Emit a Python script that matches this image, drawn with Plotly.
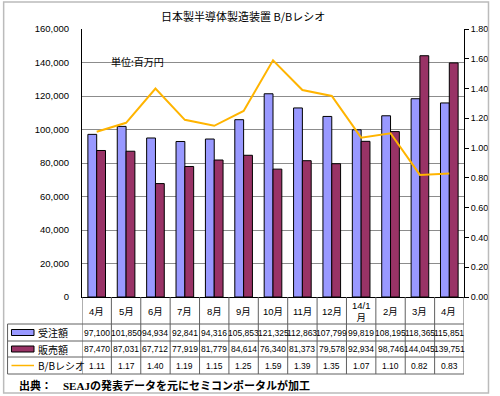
import plotly.graph_objects as go

months = ["4月", "5月", "6月", "7月", "8月", "9月", "10月", "11月", "12月", "14/1<br>月", "2月", "3月", "4月 "]
orders = [97100, 101850, 94934, 92841, 94316, 105853, 121325, 112863, 107799, 99819, 108195, 118365, 115851]
sales = [87470, 87031, 67712, 77919, 81779, 84614, 76340, 81373, 79578, 92934, 98746, 144045, 139751]
bb_ratio = [1.11, 1.17, 1.40, 1.19, 1.15, 1.25, 1.59, 1.39, 1.35, 1.07, 1.10, 0.82, 0.83]
left_ticks = [0, 20000, 40000, 60000, 80000, 100000, 120000, 140000, 160000]
right_ticks = [0.0, 0.2, 0.4, 0.6, 0.8, 1.0, 1.2, 1.4, 1.6, 1.8]

W, H = 500, 396
L, R, T, B = 82, 472, 29, 297
BLUE = "#9999FF"
MAROON = "#993366"
ORANGE = "#FFB400"
FONT = "Liberation Sans, Arial, Noto Sans CJK JP"
JFONT = "Noto Sans CJK JP"

def px(xp):
    return (xp - L) / (R - L)

def py(yp):
    return (B - yp) / (B - T)

fig = go.Figure()
fig.add_trace(go.Bar(x=months, y=orders, name="受注額", marker=dict(color=BLUE, line=dict(color="black", width=1))))
fig.add_trace(go.Bar(x=months, y=sales, name="販売額", marker=dict(color=MAROON, line=dict(color="black", width=1))))
fig.add_trace(go.Scatter(x=months, y=bb_ratio, name="B/Bレシオ", mode="lines", yaxis="y2",
                         line=dict(color=ORANGE, width=2)))

shapes = []
ann = []
line_col = "#606060"
# table horizontal lines
for yp in [324, 341, 357, 374]:
    shapes.append(dict(type="line", xref="paper", yref="paper", x0=px(6), x1=px(R), y0=py(yp), y1=py(yp),
                       line=dict(color=line_col, width=1)))
# table vertical lines
shapes.append(dict(type="line", xref="paper", yref="paper", x0=px(6), x1=px(6), y0=py(324), y1=py(374),
                   line=dict(color=line_col, width=1)))
for k in range(len(months) + 1):
    xv = k - 0.5
    shapes.append(dict(type="line", xref="x", yref="paper", x0=xv, x1=xv, y0=py(B), y1=py(374),
                       line=dict(color=line_col, width=1)))
# outer border
shapes.append(dict(type="rect", xref="paper", yref="paper", x0=px(2), x1=px(497), y0=py(2), y1=py(393),
                   line=dict(color="#BBBBBB", width=1.5)))
# legend symbols
shapes.append(dict(type="rect", xref="paper", yref="paper", x0=px(10), x1=px(33), y0=py(329.5), y1=py(335.5),
                   fillcolor=BLUE, line=dict(color="black", width=1)))
shapes.append(dict(type="rect", xref="paper", yref="paper", x0=px(10), x1=px(33), y0=py(346), y1=py(352),
                   fillcolor=MAROON, line=dict(color="black", width=1)))
shapes.append(dict(type="line", xref="paper", yref="paper", x0=px(10), x1=px(33), y0=py(365.5), y1=py(365.5),
                   line=dict(color=ORANGE, width=1.5)))

rows = [("受注額", [f"{v:,}" for v in orders], 332.5),
        ("販売額", [f"{v:,}" for v in sales], 349),
        ("B/Bレシオ", [f"{v:.2f}" for v in bb_ratio], 365.5)]
for name, vals, yc in rows:
    ann.append(dict(x=px(35), y=py(yc), xref="paper", yref="paper", text=name, showarrow=False,
                    xanchor="left", yanchor="middle", font=dict(size=10, family=JFONT, color="black")))
    for m, v in zip(months, vals):
        ann.append(dict(x=m, y=py(yc), xref="x", yref="paper", text=v, showarrow=False,
                        xanchor="center", yanchor="middle", font=dict(size=8.5, family=FONT, color="black")))
for m in months:
    ann.append(dict(x=m, y=py(311), xref="x", yref="paper", text=m, showarrow=False,
                    xanchor="center", yanchor="middle", font=dict(size=9.5, family=FONT, color="black")))

ann.append(dict(x=px(246), y=py(16), xref="paper", yref="paper", text="日本製半導体製造装置 B/Bレシオ",
                showarrow=False, xanchor="center", yanchor="middle", font=dict(size=11, family=JFONT, color="black")))
ann.append(dict(x=px(110), y=py(61), xref="paper", yref="paper", text="単位:百万円",
                showarrow=False, xanchor="left", yanchor="middle", font=dict(size=10, family=JFONT, color="black")))
ann.append(dict(x=px(16), y=py(385), xref="paper", yref="paper",
                text="<b>出典：　<span style='font-family:Liberation Serif'>SEAJ</span>の発表データを元にセミコンポータルが加工</b>",
                showarrow=False, xanchor="left", yanchor="middle", font=dict(size=11, family=JFONT, color="black")))

fig.update_layout(
    width=W, height=H, margin=dict(l=L, r=W - R, t=T, b=H - B, pad=0),
    paper_bgcolor="white", plot_bgcolor="white",
    barmode="group", bargap=0.4, bargroupgap=0,
    showlegend=False,
    font=dict(family=FONT, size=9, color="black"),
    xaxis=dict(type="category", showticklabels=False, showgrid=False, showline=True, linecolor="black",
               linewidth=1, ticks="", range=[-0.5, len(months) - 0.5]),
    yaxis=dict(range=[0, 160000], tickvals=left_ticks, ticktext=[f"{v:,}" for v in left_ticks],
               showgrid=True, gridcolor="#8C8C8C", gridwidth=1, showline=True, linecolor="black",
               linewidth=1, ticks="", ticklabelstandoff=10, tickfont=dict(size=9.5), zeroline=False),
    yaxis2=dict(range=[0, 1.8], tickvals=right_ticks, ticktext=[f"{v:.2f}" for v in right_ticks],
                overlaying="y", side="right", showgrid=False, showline=True, linecolor="black", linewidth=1,
                ticks="outside", ticklen=4, tickcolor="black", tickfont=dict(size=9), zeroline=False),
    shapes=shapes, annotations=ann,
)
fig.write_html("out.html", config={"displayModeBar": False},
               post_script="document.body.style.margin='0';document.body.style.padding='0';")
